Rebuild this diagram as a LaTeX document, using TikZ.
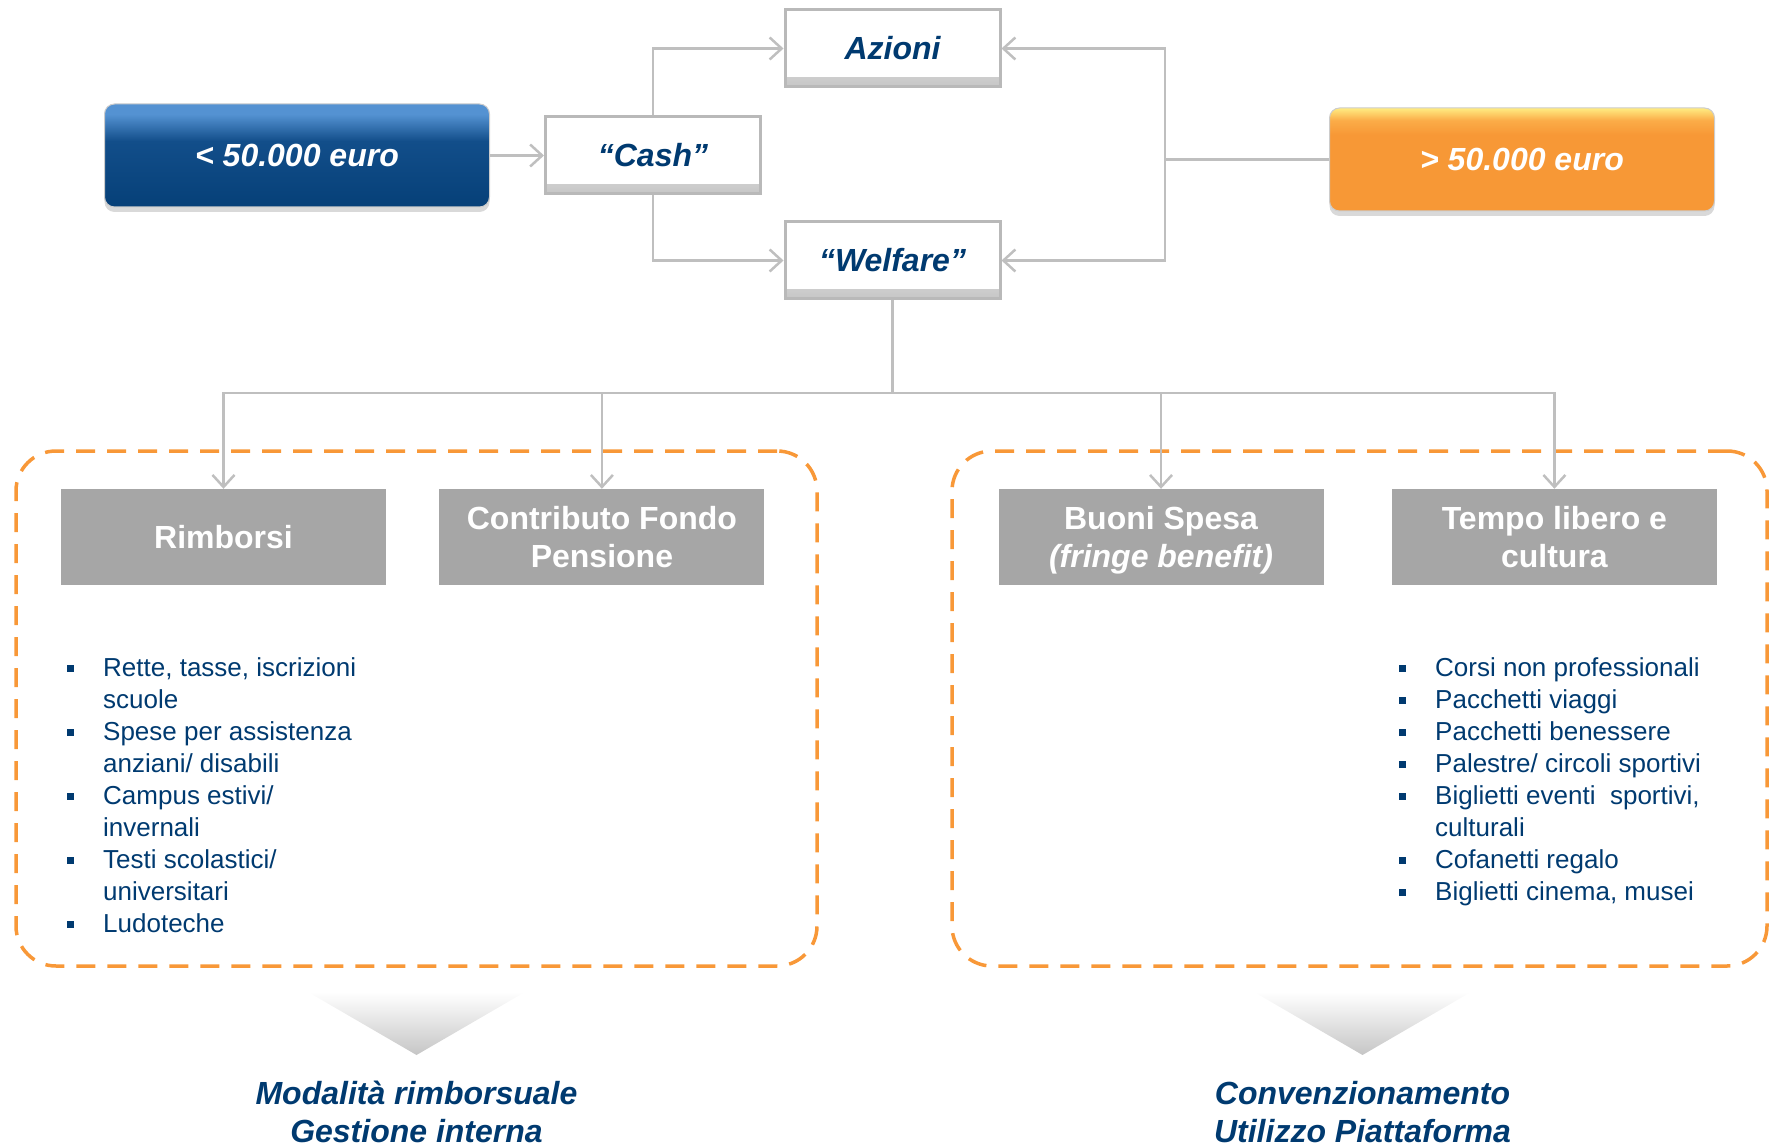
\documentclass[tikz,border=0pt]{standalone}
\usepackage{fontspec}
\setmainfont{Liberation Sans}
\usetikzlibrary{arrows.meta,positioning,shadows}

\definecolor{navy}{RGB}{0,58,112}
\definecolor{boxgray}{RGB}{166,166,166}
\definecolor{linegray}{RGB}{191,191,191}
\definecolor{dashorange}{RGB}{248,152,56}
\definecolor{blueT}{RGB}{84,146,210}
\definecolor{blueM}{RGB}{18,78,138}
\definecolor{blueB}{RGB}{6,64,120}
\definecolor{orT}{RGB}{255,236,130}
\definecolor{orM}{RGB}{251,172,72}
\definecolor{orB}{RGB}{247,152,54}

\pgfdeclareverticalshading{blueshade}{100bp}{color(0bp)=(blueB); color(25bp)=(blueB);
  color(57bp)=(blueM); color(70bp)=(blueT); color(75bp)=(blueT); color(100bp)=(blueT)}
\pgfdeclareverticalshading{orangeshade}{100bp}{color(0bp)=(orB); color(25bp)=(orB);
  color(62bp)=(orB); color(69bp)=(orM); color(75bp)=(orT); color(100bp)=(orT)}

\newcommand\sqbullet{\makebox[36pt][l]{\raisebox{4pt}{\rule{7pt}{7pt}}}}
\newcommand\listgap{\hspace*{36pt}}

\tikzset{
  pill/.style={
    shade,
    rounded corners=10pt,
    draw=gray!40,
    line width=1pt,
    minimum width=385pt,
    minimum height=103pt,
    inner sep=0pt,
    text=white,
    font=\fontsize{32}{38}\selectfont\bfseries\itshape,
    drop shadow={shadow xshift=0pt, shadow yshift=-5pt, opacity=.3}
  },
  choice/.style={
    draw=gray!55,
    line width=3pt,
    fill=white,
    minimum width=215pt,
    minimum height=77pt,
    inner sep=0pt,
    text=navy,
    font=\fontsize{32}{38}\selectfont\bfseries\itshape,
    path picture={\shade[top color=white, bottom color=gray!45]
      ([yshift=9pt]path picture bounding box.south west) rectangle
      (path picture bounding box.south east);},
    drop shadow={shadow xshift=1.5pt, shadow yshift=-1.5pt, opacity=.3}
  },
  cat/.style={
    fill=boxgray,
    text=white,
    align=center,
    minimum width=325pt,
    minimum height=96pt,
    inner sep=0pt,
    font=\fontsize{32}{38}\selectfont\bfseries
  },
  bullets/.style={
    align=left,
    anchor=north west,
    inner sep=0pt,
    text=navy,
    font=\fontsize{26}{32}\selectfont
  },
  group/.style={
    draw=dashorange,
    line width=3.5pt,
    dash pattern=on 19pt off 12pt,
    rounded corners=40pt,
    inner sep=0pt
  },
  outcome/.style={
    align=center,
    text=navy,
    font=\fontsize{32}{38}\selectfont\bfseries\itshape
  },
  link/.style={draw=linegray, line width=2.5pt},
  arrow/.style={link, -{Straight Barb[length=12pt, width=22pt]}}
}

\begin{document}
\begin{tikzpicture}[x=1pt, y=-1pt, node distance=54pt]
\useasboundingbox (0,0) rectangle (1771,1147);

% --- amounts and first split ---
\node[pill, shading=blueshade] (low) at (297,155.5) {< 50.000 euro};
\node[choice, right=54pt of low] (cash) {“Cash”};
\node[choice] (azioni) at (892.5,48.5) {Azioni};
\node[choice] (welfare) at (892.5,260.5) {“Welfare”};
\node[pill, shading=orangeshade] (high) at (1522,159.5) {> 50.000 euro};

\draw[arrow] (low) -- (cash);
\draw[arrow] (cash.north) |- (azioni);
\draw[arrow] (cash.south) |- (welfare);

\coordinate (hub) at (1165,159.5);
\draw[link] (high) -- (hub);
\draw[arrow] (hub) |- (azioni);
\draw[arrow] (hub) |- (welfare);

% --- dashed groups ---
\node[group, minimum width=801pt, minimum height=515pt] (leftgrp) at (416.5,708.5) {};
\node[group, minimum width=815pt, minimum height=515pt] (rightgrp) at (1359.5,708.5) {};

% --- welfare categories ---
\node[cat] (rimb) at (223.5,537) {Rimborsi};
\node[cat, right=53pt of rimb] (contrib) {Contributo Fondo\\Pensione};
\node[cat] (buoni) at (1161,537) {Buoni Spesa\\\raisebox{0pt}[\height][0pt]{\textit{(fringe benefit)}}};
\node[cat, right=68pt of buoni] (tempo) {Tempo libero e\\cultura};

\coordinate (bus) at (892.5,393);
\draw[link] (welfare) -- (bus);
\foreach \c in {rimb,contrib,buoni,tempo}
  \draw[arrow] (bus) -| (\c.north);

\node[bullets] (leftlist) at (67,657) {\sqbullet Rette, tasse, iscrizioni\\
  \listgap scuole\\
  \sqbullet Spese per assistenza\\
  \listgap anziani/ disabili\\
  \sqbullet Campus estivi/\\
  \listgap invernali\\
  \sqbullet Testi scolastici/\\
  \listgap universitari\\
  \sqbullet Ludoteche};

\node[bullets] (rightlist) at (1399,657) {\sqbullet Corsi non professionali\\
  \sqbullet Pacchetti viaggi\\
  \sqbullet Pacchetti benessere\\
  \sqbullet Palestre/ circoli sportivi\\
  \sqbullet Biglietti eventi\ \ sportivi,\\
  \listgap culturali\\
  \sqbullet Cofanetti regalo\\
  \sqbullet Biglietti cinema, musei};

% --- outcomes ---
\shade[top color=white, bottom color=gray!45] (308,992) -- (525,992) -- (416.5,1055) -- cycle;
\shade[top color=white, bottom color=gray!45] (1254,992) -- (1471,992) -- (1362.5,1055) -- cycle;

\node[outcome] (lefthow) at (416.5,1112) {Modalità rimborsuale\\Gestione interna};
\node[outcome] (righthow) at (1362.5,1112) {Convenzionamento\\Utilizzo Piattaforma};

\end{tikzpicture}
\end{document}
